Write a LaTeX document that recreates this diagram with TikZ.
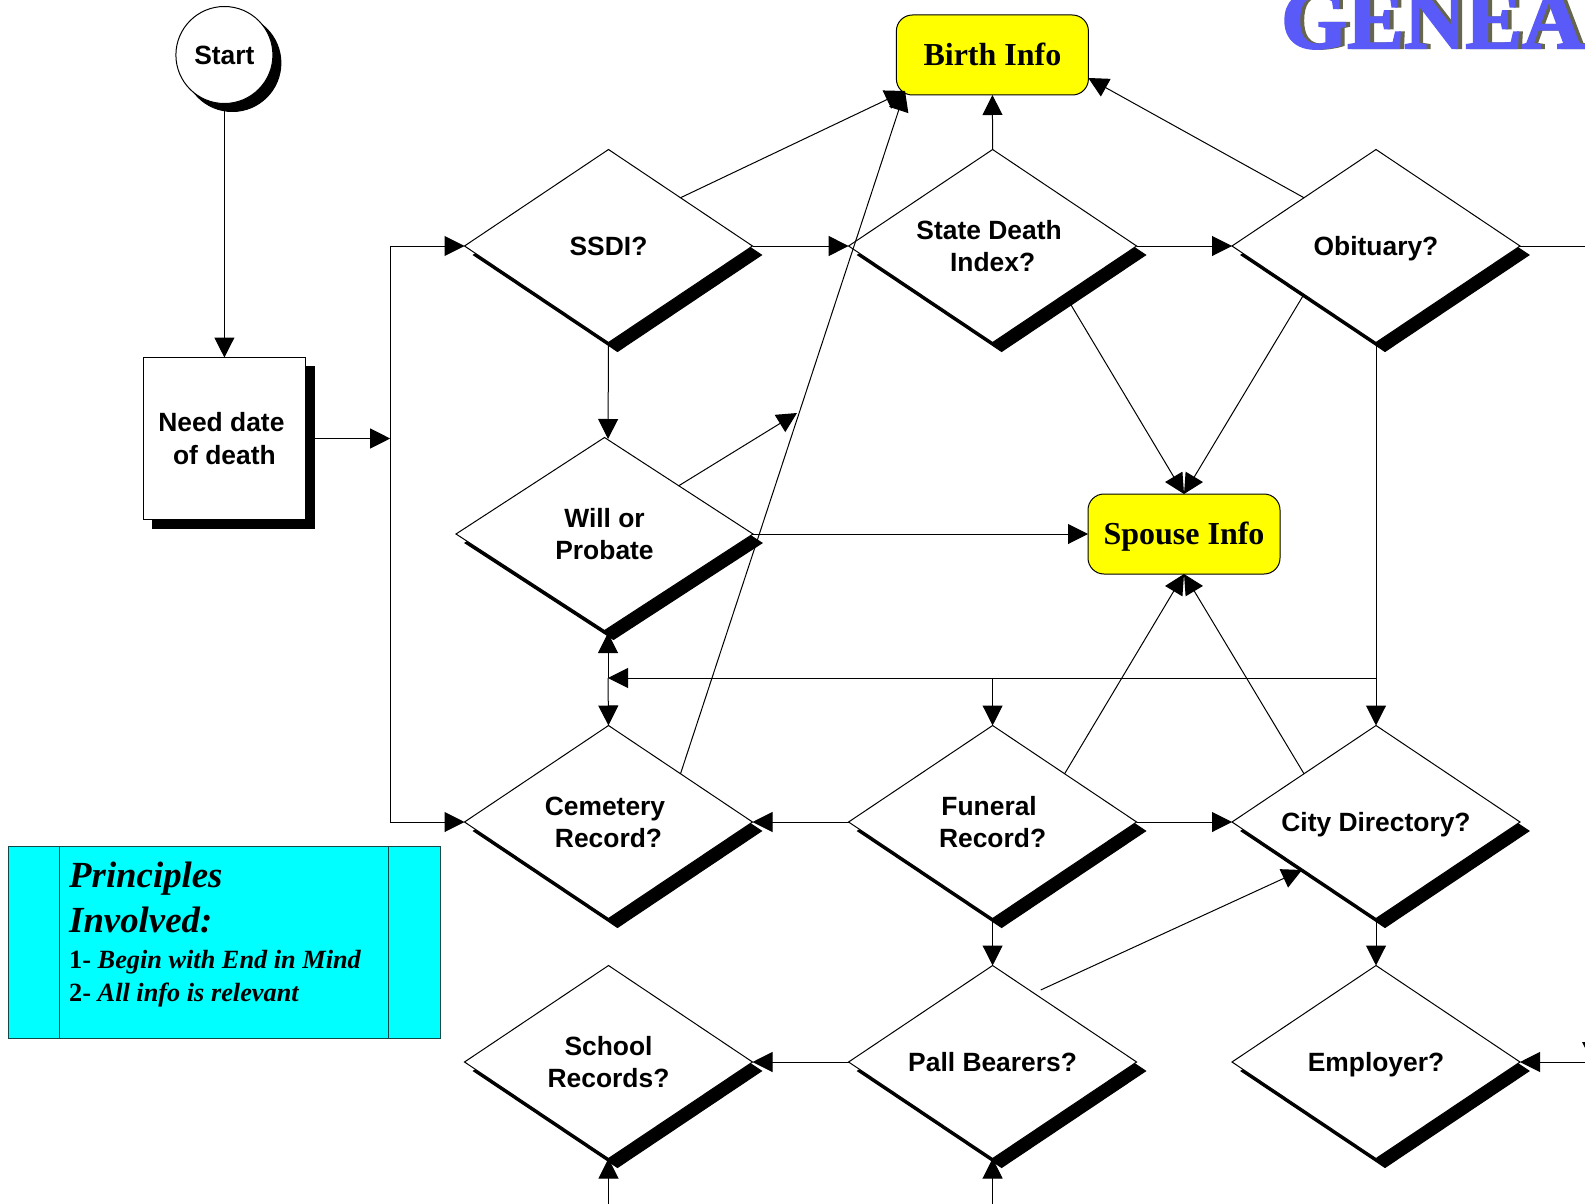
\documentclass[tikz,border=0pt]{standalone}
\usepackage{fontspec}
\setmainfont{Liberation Serif}
\setsansfont{Liberation Sans}
\newfontfamily\logofont[FakeBold=2.5]{Liberation Serif Bold}
\usetikzlibrary{shapes.geometric,arrows.meta,shadows}
\definecolor{logoblue}{HTML}{5A5AF8}
\definecolor{logoshade}{HTML}{66664E}
\definecolor{notefill}{HTML}{00FFFF}
\definecolor{noteline}{HTML}{104848}
\definecolor{goalfill}{HTML}{FFFF00}
\newcommand\sanslinebox{\rule[-6pt]{0pt}{31pt}}
\newcommand\firstlinebox{\rule{0pt}{25pt}}
\newcommand\goallinebox{\rule[-7pt]{0pt}{35.2pt}}
\tikzset{
  x=1pt,y=-1pt,
  base/.style={draw=black,line width=1pt,outer sep=0pt,inner sep=0pt,align=center,
    font=\sffamily\bfseries\fontsize{26.4}{32.4}\selectfont,
    execute at begin node=\sanslinebox,execute at end node=\sanslinebox},
  shade9/.style={copy shadow={shadow xshift=9pt,shadow yshift=-9pt,draw=black,fill=black,opacity=1}},
  decision/.style={base,diamond,aspect=1.5,fill=white,minimum width=288pt,minimum height=193pt,shade9},
  termin/.style={base,circle,fill=white,minimum size=97pt,
    copy shadow={shadow xshift=8pt,shadow yshift=-8pt,draw=black,fill=black,opacity=1}},
  process/.style={base,rectangle,fill=white,minimum width=162pt,minimum height=162pt,shade9},
  goal/.style={base,rectangle,rounded corners=16pt,fill=goalfill,minimum width=192pt,minimum height=80pt,
    font=\rmfamily\bfseries\fontsize{32}{38}\selectfont,
    execute at begin node=\goallinebox,execute at end node=\goallinebox},
  conn/.style={draw=black,line width=1pt,-{Triangle[length=20pt,width=20pt]}},
  plain/.style={draw=black,line width=1pt},
  note/.style={draw=noteline,line width=1pt,fill=notefill},
  logo/.style={font=\logofont\fontsize{85}{85}\selectfont,anchor=base west,inner sep=0pt},
}
\begin{document}
\begin{tikzpicture}
\useasboundingbox (0,0) rectangle (1585,1204);
% logo
\begin{scope}
\clip (0,0) rectangle (1585,1204);
\node[logo] (logotext) at (1281,48) {\rlap{\hspace{4pt}\textcolor{logoshade}{GENEAL}}\textcolor{logoblue}{GENEAL}};
\end{scope}
\fill[black] (1582,1042) -- (1585,1042) -- (1585,1048) -- cycle;
% note
\node[note,minimum width=432.5pt,minimum height=192pt,inner sep=0pt] (notebox) at (224.5,942) {};
\draw[note,fill=none] (59,846) -- (59,1038) (388.7,846) -- (388.7,1038);
\node[anchor=north west,inner sep=0pt,text width=318pt,align=left,font=\bfseries\itshape] (notetext) at (69,862) {%
  {\fontsize{36.8}{45}\selectfont Principles\\Involved:\par}\vspace{3pt}%
  {\fontsize{26.3}{33}\selectfont\spaceskip=6.6pt\relax {\upshape 1-} Begin with End in Mind\\{\upshape 2-} All info is relevant\par}};
% nodes
\node[termin] (start) at (224.4,55) {Start};
\node[process] (need) at (224.4,438.5) {\firstlinebox Need date\hspace*{6pt}\\of death};
\node[goal] (birth) at (992.4,55) {Birth Info};
\node[goal] (spouse) at (1184,534) {Spouse Info};
\node[decision] (ssdi) at (608.5,246) {SSDI?};
\node[decision] (state) at (992.6,246) {\firstlinebox State Death\hspace*{7pt}\\Index?};
\node[decision] (obit) at (1376,246) {Obituary?};
\node[decision,minimum width=297pt] (will) at (604.5,534) {\firstlinebox Will or\\Probate};
\node[decision] (cem) at (608.5,822) {\firstlinebox Cemetery\hspace*{7pt}\\Record?};
\node[decision] (fun) at (992.6,822) {\firstlinebox Funeral\hspace*{7pt}\\Record?};
\node[decision] (city) at (1376,822) {City Directory?};
\node[decision] (school) at (608.5,1062) {\firstlinebox School\\Records?};
\node[decision] (pall) at (992.6,1062) {Pall Bearers?};
\node[decision] (emp) at (1376,1062) {Employer?};
% free ends and junctions
\coordinate (spine) at (390.2,438.5);
\coordinate (hub) at (608,678);
\coordinate (willtop) at (608,439);
\coordinate (willfoot) at (608,633);
\coordinate (birthsw) at (905,91);
\coordinate (birthe) at (1088.3,78);
\coordinate (willfree) at (797,413);
\coordinate (pallfree) at (1040.7,990);
\coordinate (citysw) at (1302,870);
\coordinate (obitout) at (1585,246);
\coordinate (empin) at (1585,1062);
\coordinate (schoolin) at (608.5,1204);
\coordinate (pallin) at (992.6,1204);
% connectors
\draw[conn] (start) -- (need);
\draw[conn] (need.east) -- (spine);
\draw[conn] (spine) |- (ssdi.west);
\draw[conn] (spine) |- (cem.west);
\draw[conn] (ssdi.east) -- (state.west);
\draw[conn] (state.east) -- (obit.west);
\draw[plain] (obit.east) -- (obitout);
\draw[conn] (ssdi.north east) -- (birthsw);
\draw[conn] (cem.north east) -- (birthsw);
\draw[conn] (state.north) -- (birth.south);
\draw[conn] (obit.north west) -- (birthe);
\draw[conn] (ssdi.south) -- (willtop);
\draw[conn] (will.north east) -- (willfree);
\draw[conn] (will.east) -- (spouse.west);
\draw[conn] (state.south east) -- (spouse.north);
\draw[conn] (obit.south west) -- (spouse.north);
\draw[conn] (fun.north east) -- (spouse.south);
\draw[conn] (city.north west) -- (spouse.south);
\draw[conn] (obit.south) -- (city.north);
\draw[conn] (obit.south |- hub) -- (hub);
\draw[conn] (fun.north |- hub) -- (fun.north);
\draw[conn] (hub) -- (willfoot);
\draw[conn] (hub) -- (cem.north);
\draw[conn] (fun.west) -- (cem.east);
\draw[conn] (fun.east) -- (city.west);
\draw[conn] (fun.south) -- (pall.north);
\draw[conn] (city.south) -- (emp.north);
\draw[conn] (pallfree) -- (citysw);
\draw[conn] (pall.west) -- (school.east);
\draw[conn] (empin) -- (emp.east);
\draw[conn] (schoolin) -- (school.south);
\draw[conn] (pallin) -- (pall.south);
\end{tikzpicture}
\end{document}
